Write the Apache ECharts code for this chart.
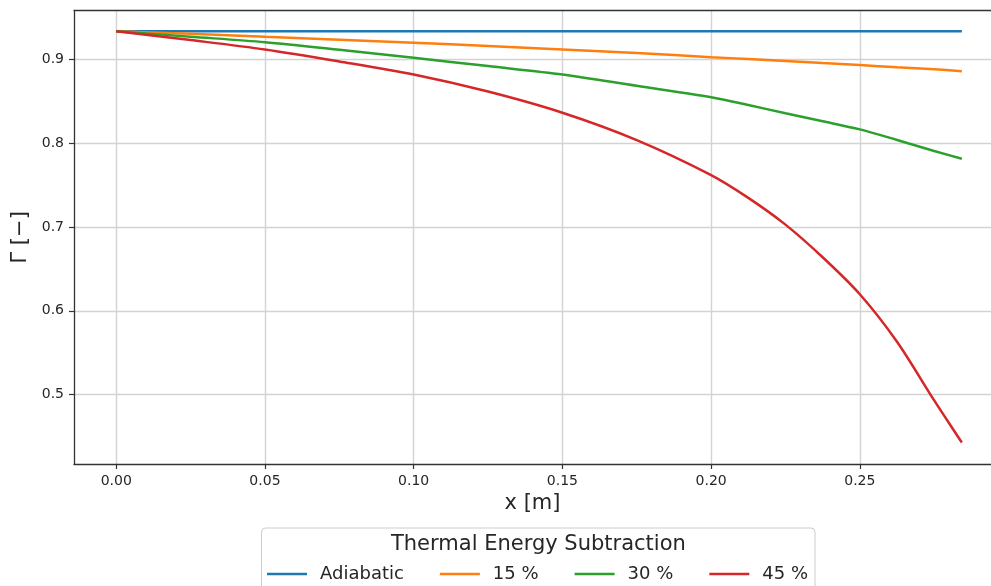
<!DOCTYPE html>
<html>
<head>
<meta charset="utf-8">
<script src="https://cdn.jsdelivr.net/npm/echarts@6/dist/echarts.min.js"></script>
<style>html,body{margin:0;padding:0;background:#fff}#c{width:991px;height:586px}</style>
</head>
<body>
<div id="c"></div>
<script>
const xValues = [0, 0.025, 0.05, 0.075, 0.10, 0.125, 0.15, 0.175, 0.20, 0.2125, 0.225, 0.2375, 0.25, 0.2625, 0.275, 0.2843];
const seriesNames = ['Adiabatic', '15 %', '30 %', '45 %'];
const adiabatic = [0.934, 0.934, 0.934, 0.934, 0.934, 0.934, 0.934, 0.934, 0.934, 0.934, 0.934, 0.934, 0.934, 0.934, 0.934, 0.934];
const sub15 = [0.934, 0.931, 0.9275, 0.924, 0.9203, 0.9165, 0.9123, 0.908, 0.9031, 0.9008, 0.8985, 0.896, 0.8936, 0.891, 0.8885, 0.8864];
const sub30 = [0.934, 0.9275, 0.921, 0.912, 0.9024, 0.8924, 0.8824, 0.8688, 0.8553, 0.846, 0.836, 0.8266, 0.8168, 0.8042, 0.791, 0.7818];
const sub45 = [0.934, 0.9235, 0.9123, 0.898, 0.8824, 0.862, 0.8367, 0.804, 0.7622, 0.735, 0.703, 0.664, 0.6198, 0.563, 0.493, 0.4427];
const xTicks = [0, 0.05, 0.10, 0.15, 0.20, 0.25];
const yTicks = [0.5, 0.6, 0.7, 0.8, 0.9];
const colors = ['#1f77b4', '#ff7f0e', '#2ca02c', '#d62728'];
const legendTitle = 'Thermal Energy Subtraction';

const allSeries = [adiabatic, sub15, sub30, sub45];
const FONT = 'DejaVu Sans';
const TXT = '#262626';

const chart = echarts.init(document.getElementById('c'), null, {renderer: 'canvas'});
chart.setOption({
  animation: false,
  backgroundColor: '#fff',
  color: colors,
  grid: {left: 74, top: 10.7, width: 917, height: 453.3, show: false},
  xAxis: [{
    type: 'value', min: -0.0142, max: 0.2941,
    name: 'x [m]', nameLocation: 'middle', nameGap: 29,
    nameTextStyle: {fontFamily: FONT, fontSize: 21, color: TXT},
    axisLine: {show: true, onZero: false, lineStyle: {color: '#333', width: 1.3}},
    axisTick: {show: true, length: 5, customValues: xTicks, lineStyle: {color: '#333', width: 1.2}},
    axisLabel: {customValues: xTicks, margin: 10, fontFamily: FONT, fontSize: 14, color: TXT,
      formatter: v => v.toFixed(2)},
    splitLine: {show: true, lineStyle: {color: '#d3d3d3', width: 1.4}}
  }, {
    type: 'value', position: 'top', min: -0.0142, max: 0.2941,
    axisLine: {show: true, onZero: false, lineStyle: {color: '#333', width: 1.3}},
    axisTick: {show: false}, axisLabel: {show: false}, splitLine: {show: false}
  }],
  yAxis: {
    type: 'value', min: 0.417, max: 0.9586,
    name: 'Γ [−]', nameLocation: 'middle', nameGap: 41,
    nameTextStyle: {fontFamily: FONT, fontSize: 21, color: TXT},
    axisLine: {show: true, onZero: false, lineStyle: {color: '#333', width: 1.3}},
    axisTick: {show: true, length: 5, customValues: yTicks, lineStyle: {color: '#333', width: 1.2}},
    axisLabel: {customValues: yTicks, margin: 10, fontFamily: FONT, fontSize: 14, color: TXT,
      formatter: v => v.toFixed(1)},
    splitLine: {show: true, lineStyle: {color: '#d3d3d3', width: 1.4}}
  },
  legend: {
    show: true, z: 100, left: 267, top: 565, padding: 0, orient: 'horizontal',
    itemWidth: 40, itemHeight: 2.5, itemGap: 36, icon: 'rect',
    textStyle: {fontFamily: FONT, fontSize: 18, color: TXT, padding: [0, 0, 0, 8]},
    data: seriesNames
  },
  graphic: [
    {type: 'rect', z: 50, shape: {x: 261.5, y: 528, width: 553.5, height: 90, r: 4},
     style: {fill: 'rgba(255,255,255,0.9)', stroke: '#cccccc', lineWidth: 1}},
    {type: 'text', z: 51, x: 538.4, y: 545,
     style: {text: legendTitle, fontFamily: FONT, fontSize: 21, fill: TXT, align: 'center', verticalAlign: 'middle'}}
  ],
  series: allSeries.map((vals, i) => ({
    name: seriesNames[i], type: 'line', symbol: 'none', smooth: 0.3,
    xAxisIndex: 0,
    lineStyle: {width: 2.5, color: colors[i]},
    data: xValues.map((x, j) => [x, vals[j]])
  }))
});
</script>
</body>
</html>
